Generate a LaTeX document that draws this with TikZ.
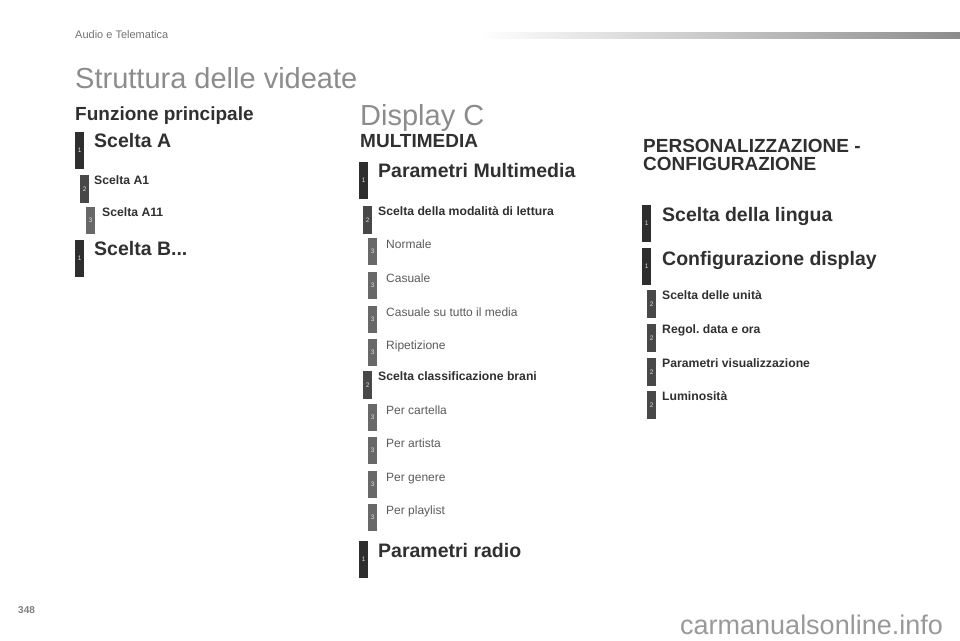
\documentclass[tikz,border=0pt]{standalone}
\usepackage{fontspec}
\setmainfont{Liberation Sans}
\usetikzlibrary{positioning}
\definecolor{lightgray}{HTML}{8C8C8C}
\definecolor{darktext}{HTML}{303030}
\definecolor{barone}{HTML}{2E2E2E}
\definecolor{bartwo}{HTML}{484848}
\definecolor{barthree}{HTML}{686868}
\newcommand{\fs}[1]{\fontsize{#1}{#1}\selectfont}
\frenchspacing
\tikzset{
	bar/.style={anchor=north west, inner sep=0pt, text=white!85!black, font=\fs{6.5}},
	lvlone/.style={bar, fill=barone, minimum width=9pt, minimum height=37pt},
	lvltwo/.style={bar, fill=bartwo, minimum width=9pt, minimum height=28pt},
	lvlthree/.style={bar, fill=barthree, minimum width=9pt, minimum height=27pt},
	txt/.style={anchor=base west, inner sep=0pt, text=darktext},
	txtone/.style={txt, font=\fs{19.5}\bfseries},
	txttwo/.style={txt, font=\fs{12.2}\bfseries},
	txtthree/.style={txt, font=\fs{12}, text=darktext!80!white},
	heading/.style={txt, font=\fs{19}\bfseries},
	bigtitle/.style={txt, font=\fs{29}, text=lightgray}
}
\begin{document}
\begin{tikzpicture}[x=1pt, y=-1pt]
	\useasboundingbox (0,0) rectangle (960,640);
	\shade[left color=white, right color=black!45] (480,32) rectangle (960,38.5);
	\node[txt, font=\fs{11}, text=black!55] (section) at (75,38.5) {Audio e Telematica};
	\node[bigtitle] (struttura) at (75,88) {Struttura delle videate};
	\node[heading] (funzione) at (75,120.5) {Funzione principale};

	\node[lvlone] (b1) at (75,132) {1};
	\node[txtone] (sceltaA) at (94,147.5) {Scelta A};
	\node[lvltwo] (b2) at (80,175) {2};
	\node[txttwo] (sceltaA1) at (94,184.5) {Scelta A1};
	\node[lvlthree] (b3) at (86,207) {3};
	\node[txttwo] (sceltaA11) at (102,216.5) {Scelta A11};
	\node[lvlone] (b4) at (75,240) {1};
	\node[txtone] (sceltaB) at (94,255) {Scelta B...};

	\node[bigtitle] (display) at (360,125) {Display C};
	\node[heading] (multimedia) at (360,147) {MULTIMEDIA};
	\node[lvlone] (bmm) at (359,162) {1};
	\node[txtone] (parammm) at (378,177.5) {Parametri Multimedia};
	\node[lvltwo] (blettura) at (363,206) {2};
	\node[txttwo] (lettura) at (378,215) {Scelta della modalità di lettura};
	\foreach \y/\name/\label in {238/normale/Normale, 272/casuale/Casuale, 306/tutto/Casuale su tutto il media, 339/ripetizione/Ripetizione}{
		\node[lvlthree] (b\name) at (368,\y) {3};
		\node[txtthree] (\name) at (386,\y+10) {\label};
	}
	\node[lvltwo] (bbrani) at (363,371) {2};
	\node[txttwo] (brani) at (378,380) {Scelta classificazione brani};
	\foreach \y/\name/\label in {404/cartella/Per cartella, 437/artista/Per artista, 471/genere/Per genere, 504/playlist/Per playlist}{
		\node[lvlthree] (b\name) at (368,\y) {3};
		\node[txtthree] (\name) at (386,\y+10) {\label};
	}
	\node[lvlone] (bradio) at (359,541) {1};
	\node[txtone] (radio) at (378,557) {Parametri radio};

	\node[heading, anchor=north west, align=left, font=\fontsize{19}{18}\selectfont\bfseries] (personal) at (643,139.5) {PERSONALIZZAZIONE -\\CONFIGURAZIONE};
	\node[lvlone] (blingua) at (642,205) {1};
	\node[txtone] (lingua) at (662,221.5) {Scelta della lingua};
	\node[lvlone] (bconfig) at (642,248) {1};
	\node[txtone] (config) at (662,265) {Configurazione display};
	\foreach \y/\name/\label in {290/unita/Scelta delle unità, 324/data/Regol.\ data e ora, 358/visual/Parametri visualizzazione, 391/lumin/Luminosità}{
		\node[lvltwo] (b\name) at (647,\y) {2};
		\node[txttwo] (\name) at (662,\y+9.5) {\label};
	}

	\node[txt, font=\fs{10}\bfseries, text=black!50] (page) at (18,613) {348};
	\node[txt, font=\fs{27}, text=black!40] (watermark) at (680,634) {carmanualsonline.info};
\end{tikzpicture}
\end{document}
